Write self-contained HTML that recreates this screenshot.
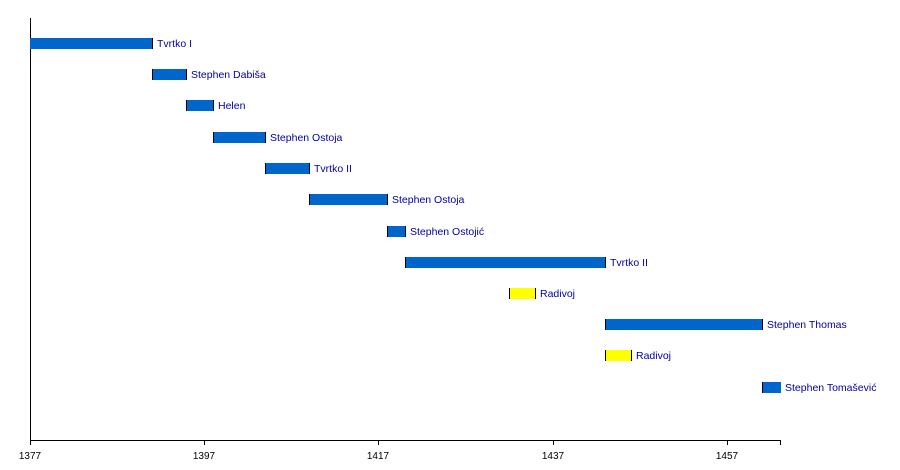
<!DOCTYPE html>
<html><head><meta charset="utf-8"><style>body{margin:0;background:#fff}svg{display:block}</style></head><body>
<svg width="900" height="470" xmlns="http://www.w3.org/2000/svg" font-family="Liberation Sans, sans-serif">
<line x1="30.5" y1="18" x2="30.5" y2="440" stroke="#000" stroke-width="1"/>
<line x1="30" y1="440.5" x2="780" y2="440.5" stroke="#000" stroke-width="1"/>
<g stroke="#000" stroke-width="1">
<line x1="30.5" y1="440" x2="30.5" y2="445"/><line x1="204.5" y1="440" x2="204.5" y2="445"/><line x1="378.5" y1="440" x2="378.5" y2="445"/><line x1="553.5" y1="440" x2="553.5" y2="445"/><line x1="727.5" y1="440" x2="727.5" y2="445"/><line x1="780.5" y1="440" x2="780.5" y2="445"/>
</g>
<g font-size="10" fill="#000" text-anchor="middle">
<text x="30" y="459">1377</text><text x="204" y="459">1397</text><text x="378" y="459">1417</text><text x="553" y="459">1437</text><text x="727" y="459">1457</text>
</g>
<g id="bars" font-size="10.5" fill="#0000a0">
<rect x="30" y="38" width="123" height="11" fill="#0066cc"/><line x1="152.5" y1="38" x2="152.5" y2="49" stroke="#000"/><text x="157" y="47">Tvrtko I</text>
<rect x="152" y="69" width="35" height="11" fill="#0066cc"/><line x1="152.5" y1="69" x2="152.5" y2="80" stroke="#000"/><line x1="186.5" y1="69" x2="186.5" y2="80" stroke="#000"/><text x="191" y="78">Stephen Dabiša</text>
<rect x="186" y="100" width="28" height="11" fill="#0066cc"/><line x1="186.5" y1="100" x2="186.5" y2="111" stroke="#000"/><line x1="213.5" y1="100" x2="213.5" y2="111" stroke="#000"/><text x="218" y="109">Helen</text>
<rect x="213" y="132" width="53" height="11" fill="#0066cc"/><line x1="213.5" y1="132" x2="213.5" y2="143" stroke="#000"/><line x1="265.5" y1="132" x2="265.5" y2="143" stroke="#000"/><text x="270" y="141">Stephen Ostoja</text>
<rect x="265" y="163" width="45" height="11" fill="#0066cc"/><line x1="265.5" y1="163" x2="265.5" y2="174" stroke="#000"/><line x1="309.5" y1="163" x2="309.5" y2="174" stroke="#000"/><text x="314" y="172">Tvrtko II</text>
<rect x="309" y="194" width="79" height="11" fill="#0066cc"/><line x1="309.5" y1="194" x2="309.5" y2="205" stroke="#000"/><line x1="387.5" y1="194" x2="387.5" y2="205" stroke="#000"/><text x="392" y="203">Stephen Ostoja</text>
<rect x="387" y="226" width="19" height="11" fill="#0066cc"/><line x1="387.5" y1="226" x2="387.5" y2="237" stroke="#000"/><line x1="405.5" y1="226" x2="405.5" y2="237" stroke="#000"/><text x="410" y="235">Stephen Ostojić</text>
<rect x="405" y="257" width="201" height="11" fill="#0066cc"/><line x1="405.5" y1="257" x2="405.5" y2="268" stroke="#000"/><line x1="605.5" y1="257" x2="605.5" y2="268" stroke="#000"/><text x="610" y="266">Tvrtko II</text>
<rect x="509" y="288" width="27" height="11" fill="#ffff00"/><line x1="509.5" y1="288" x2="509.5" y2="299" stroke="#000"/><line x1="535.5" y1="288" x2="535.5" y2="299" stroke="#000"/><text x="540" y="297">Radivoj</text>
<rect x="605" y="319" width="158" height="11" fill="#0066cc"/><line x1="605.5" y1="319" x2="605.5" y2="330" stroke="#000"/><line x1="762.5" y1="319" x2="762.5" y2="330" stroke="#000"/><text x="767" y="328">Stephen Thomas</text>
<rect x="605" y="350" width="27" height="11" fill="#ffff00"/><line x1="605.5" y1="350" x2="605.5" y2="361" stroke="#000"/><line x1="631.5" y1="350" x2="631.5" y2="361" stroke="#000"/><text x="636" y="359">Radivoj</text>
<rect x="762" y="382" width="19" height="11" fill="#0066cc"/><line x1="762.5" y1="382" x2="762.5" y2="393" stroke="#000"/><text x="785" y="391">Stephen Tomašević</text>
</g>
</svg>
</body></html>
